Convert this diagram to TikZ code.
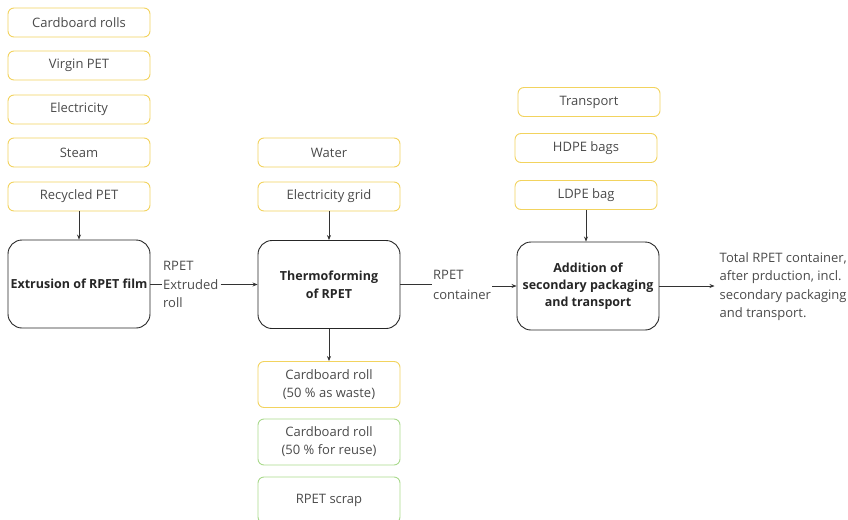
\documentclass[tikz,border=0pt]{standalone}
\usepackage{fontspec}
\setmainfont{Open Sans}
\usetikzlibrary{arrows.meta}
\definecolor{inbox}{HTML}{F2D35E}
\definecolor{outbox}{HTML}{A9D98C}
\definecolor{txt}{HTML}{4A4A4A}
\begin{document}
\begin{tikzpicture}[x=1pt,y=-1pt,
  font=\fontsize{13}{18}\selectfont, text=txt,
  flowin/.style={draw=inbox, line width=0.9pt, rounded corners=6pt, minimum width=142pt, minimum height=29pt, inner sep=0pt, align=center},
  flowout/.style={flowin, draw=outbox},
  process/.style={draw=black!85, line width=0.9pt, rounded corners=14pt, minimum width=142pt, minimum height=88pt, inner sep=2pt, align=center, font=\fontsize{12.5}{18}\selectfont\bfseries, text=black!85},
  lbl/.style={inner sep=0pt, align=left, font=\fontsize{13}{18.5}\selectfont},
  arr/.style={draw=black!80, line width=0.7pt, -{Stealth[length=5pt,width=4pt]}},
  ln/.style={draw=black!80, line width=0.7pt}]
\useasboundingbox (0,0) rectangle (848,519);
\begin{scope}
\clip (0,0) rectangle (848,519);
% inputs to the extrusion step
\node[flowin] (cb) at (79,22.5) {Cardboard rolls};
\node[flowin] (vp) at (79,65.5) {Virgin PET};
\node[flowin] (el) at (79,109.5) {Electricity};
\node[flowin] (st) at (79,152.5) {Steam};
\node[flowin] (rp) at (79,196.5) {Recycled PET};
\node[process] (ex) at (79,284) {Extrusion of RPET film};
% inputs to thermoforming
\node[flowin] (wa) at (329,152.5) {Water};
\node[flowin] (eg) at (329,196.5) {Electricity grid};
\node[process] (th) at (329,284.5) {Thermoforming\\of RPET};
% outputs of thermoforming
\node[flowin, minimum height=46pt] (cw) at (329,384.5) {Cardboard roll\\(50 \% as waste)};
\node[flowout, minimum height=46pt] (cr) at (329,442) {Cardboard roll\\(50 \% for reuse)};
\node[flowout, minimum height=46pt] (sc) at (329,500) {RPET scrap};
% secondary packaging step
\node[flowin] (tr) at (589,102) {Transport};
\node[flowin] (hd) at (586,148) {HDPE bags};
\node[flowin] (ld) at (586,195) {LDPE bag};
\node[process, font=\fontsize{12.5}{17}\selectfont\bfseries] (ad) at (588,286) {Addition of\\secondary packaging\\and transport};
\end{scope}
% flow labels
\node[lbl, anchor=west] (rr) at (163,284.5) {RPET\\Extruded\\roll};
\node[lbl, anchor=west, font=\fontsize{13}{20}\selectfont] (rc) at (433,284.5) {RPET\\container};
\node[lbl, anchor=west] (tot) at (719.5,286.5) {Total RPET container,\\after prduction, incl.\\secondary packaging\\and transport.};
% connectors
\draw[arr] (rp.south) -- (ex.north);
\draw[arr] (eg.south) -- (th.north);
\draw[arr] (ld.south) -- (ad.north -| ld.south);
\draw[arr] (th.south) -- (cw.north);
\draw[ln] (ex.east) -- ([xshift=-1pt]rr.west |- ex.east);
\draw[arr] ([xshift=2pt]rr.east |- th.west) -- (th.west);
\draw[ln] (th.east |- rc.west) -- ([xshift=-1pt]rc.west);
\draw[arr] ([xshift=1pt]rc.east |- ad.west) -- (ad.west);
\draw[arr] (ad.east) -- ([xshift=-5pt]tot.west |- ad.east);
\end{tikzpicture}
\end{document}
